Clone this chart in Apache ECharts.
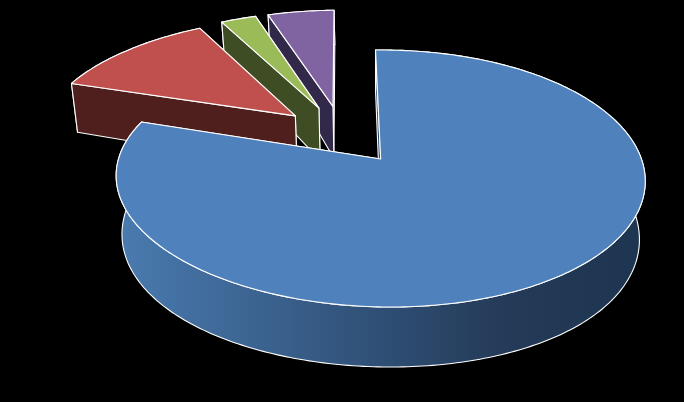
<!DOCTYPE html>
<html><head><meta charset="utf-8">
<style>html,body{margin:0;padding:0;background:#000}#c{width:684px;height:402px}</style>
<script src="https://cdn.jsdelivr.net/npm/echarts@6/dist/echarts.min.js"></script></head>
<body><div id="c"></div>
<script>
var categories = ['A','B','C','D'];
var values = [80.2, 12.34, 2.62, 4.94];
var topColors = ['#4F81BD','#C0504D','#9BBB59','#8064A2'];
var faceColors = ['#2b4a70','#4f1f1d','#3f4d24','#32284a'];
var startDeg = -1.3, explode = 0.25;
var P = {cx:380.5, cy:159, f:261.5, g:125.5, k:0.152, n:0.022, gl:133, d:58.8, kl:0.1, u0:-0.15, v0:0.2, twist:0.018};
function proj(u,v,low){
  u+=P.u0; v+=P.v0;
  var x,y;
  if(!low){
    var w=1+P.k*v;
    x=P.f*u/w; y=P.cy-P.g*v/w;
  } else {
    var wx=1+P.k*v+P.n, wy=1+P.kl*v+P.n;
    x=P.f*u/wx; y=P.cy-(P.gl*v-P.d)/wy;
  }
  y+=P.twist*x*Math.max(0,(1-v)/2);
  return [P.cx+x,y];
}
var total=values.reduce(function(a,b){return a+b;},0);
function render(params,api){
  var i=params.dataIndex, before=0;
  for(var j=0;j<i;j++)before+=values[j];
  var a0=(startDeg+before/total*360)*Math.PI/180;
  var a1=(startDeg+(before+api.value(1))/total*360)*Math.PI/180;
  var mid=(a0+a1)/2, ox=explode*Math.sin(mid), oy=explode*Math.cos(mid);
  var steps=Math.max(4,Math.ceil((a1-a0)*60));
  var topArc=[],lowArc=[];
  for(var s=0;s<=steps;s++){
    var a=a0+(a1-a0)*s/steps;
    topArc.push(proj(ox+Math.sin(a),oy+Math.cos(a),false));
    lowArc.push(proj(ox+Math.sin(a),oy+Math.cos(a),true));
  }
  var apexT=proj(ox,oy,false), apexL=proj(ox,oy,true);
  var base=(values.length-i)*10, line={stroke:'#fff',lineWidth:1.1,lineJoin:'round'};
  function poly(pts,fill,z){
    return {type:'polygon',z2:base+z,shape:{points:pts},style:Object.assign({fill:fill},line)};
  }
  var wallFill = i===0 ? {type:'linear',x:0,y:0,x2:1,y2:0,colorStops:[
     {offset:0,color:'#4a7bb0'},{offset:0.5,color:'#2f4f75'},{offset:0.72,color:'#253b59'},{offset:1,color:'#1d3550'}]} : faceColors[i];
  var wall=topArc.concat(lowArc.slice().reverse());
  var face0=[topArc[0],apexT,apexL,lowArc[0]];
  var face1=[topArc[steps],apexT,apexL,lowArc[steps]];
  var children = i===0
    ? [poly(wall,wallFill,0),poly(face1,faceColors[i],1),poly(face0,faceColors[i],2)]
    : [poly(face1,faceColors[i],0),poly(wall,wallFill,1),poly(face0,faceColors[i],2)];
  children.push(poly([apexT].concat(topArc),topColors[i],3));
  return {type:'group',children:children};
}
var chart=echarts.init(document.getElementById('c'));
chart.setOption({
  backgroundColor:'#000',animation:false,
  xAxis:{show:false,type:'value'},yAxis:{show:false,type:'value'},
  grid:{left:0,right:0,top:0,bottom:0},
  series:[{type:'custom',coordinateSystem:'none',renderItem:render,
    data:categories.map(function(c,i){return [i,values[i]];})}]
});
</script></body></html>
